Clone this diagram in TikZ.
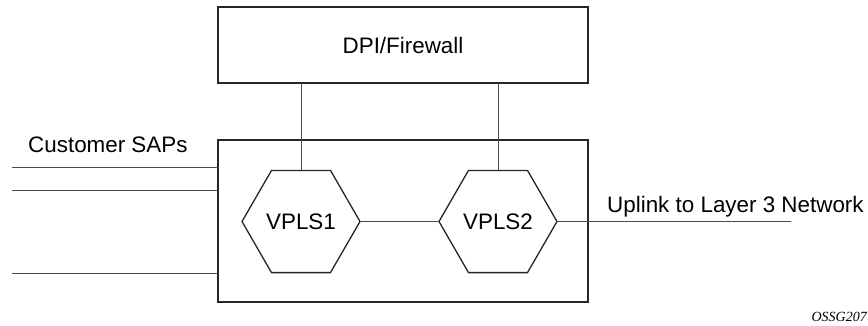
\documentclass[tikz,border=0pt]{standalone}
\usepackage{fontspec}
\setmainfont{Liberation Sans}
\newfontfamily\serifit{Liberation Serif}
\usetikzlibrary{shapes.geometric}
\begin{document}
\begin{tikzpicture}[x=1pt,y=-1pt,
  boxline/.style={draw=black!85,line width=1.3pt},
  conn/.style={draw=black!70,line width=0.8pt},
  hexa/.style={regular polygon,regular polygon sides=6,minimum size=118pt,inner sep=0pt,outer sep=0pt,draw=black!85,line width=1.3pt},
  lbl/.style={font=\fontsize{22.4}{27}\selectfont,inner sep=0pt}]
\useasboundingbox (0,0) rectangle (868,325);
\node[boxline,minimum width=370pt,minimum height=76pt,inner sep=0pt,outer sep=0pt,lbl] (dpi) at (403,45) {DPI/Firewall};
\node[boxline,minimum width=370pt,minimum height=162pt,inner sep=0pt,outer sep=0pt] (big) at (403,221) {};
\node[hexa,lbl] (v1) at (301,221.5) {VPLS1};
\node[hexa,lbl] (v2) at (498,221.5) {VPLS2};
\draw[conn] (dpi.south -| v1.north) -- (v1.north);
\draw[conn] (dpi.south -| v2.north) -- (v2.north);
\draw[conn] (v1.east) -- (v2.west);
\coordinate (up) at (791,221.5);
\draw[conn] (v2.east) -- (up);
\node[lbl,anchor=south west] (uptxt) at (607,217) {Uplink to Layer 3 Network};
\node[lbl,anchor=west] (saptxt) at (28,145) {Customer SAPs};
\coordinate (s1) at (12,167);
\coordinate (s2) at (12,190);
\coordinate (s3) at (12,273);
\draw[conn] (s1) -- (s1 -| big.west);
\draw[conn] (s2) -- (s2 -| big.west);
\draw[conn] (s3) -- (s3 -| big.west);
\node[font=\serifit\itshape\fontsize{14}{16}\selectfont,anchor=east,inner sep=0pt] (tag) at (867,317) {OSSG207};
\end{tikzpicture}
\end{document}
